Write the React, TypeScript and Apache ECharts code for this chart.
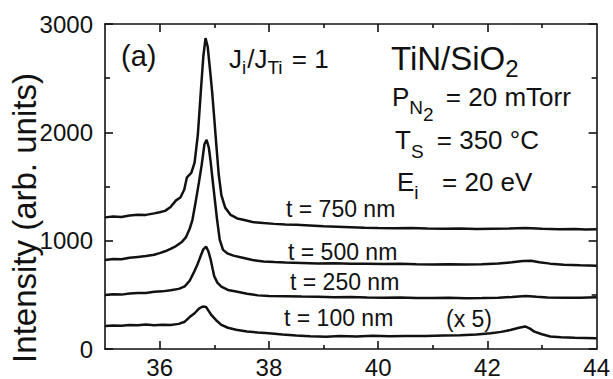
import React, { useEffect, useRef } from "react";
import * as echarts from "echarts";

const FONT = '"Liberation Sans", Arial, Helvetica, sans-serif';

// XRD scans: [2theta (deg), intensity (arb. units)], offset vertically as in the figure
const s750: number[][] = [
  [35.0,1215],[35.15,1222],[35.3,1218],[35.45,1232],[35.6,1240],[35.75,1238],[35.9,1252],[36.0,1262],[36.1,1275],[36.2,1310],
  [36.3,1372],[36.38,1398],[36.45,1470],[36.5,1585],[36.58,1625],[36.64,1720],[36.7,1980],[36.76,2420],[36.8,2700],[36.84,2870],
  [36.88,2790],[36.92,2590],[36.96,2380],[37.0,2130],[37.04,1870],[37.08,1620],[37.13,1420],[37.2,1305],[37.3,1238],[37.42,1205],
  [37.55,1190],[37.7,1172],[37.9,1162],[38.1,1155],[38.3,1150],[38.5,1146],[38.75,1140],[39.0,1132],[39.25,1128],[39.5,1124],
  [39.75,1120],[40.0,1117],[40.3,1114],[40.6,1116],[40.9,1112],[41.2,1110],[41.5,1112],[41.8,1108],[42.1,1110],[42.4,1112],
  [42.7,1118],[43.0,1110],[43.3,1106],[43.6,1108],[43.8,1104],[44.0,1106]
];
const s500: number[][] = [
  [35.0,822],[35.15,830],[35.3,828],[35.45,842],[35.6,850],[35.75,858],[35.9,870],[36.0,885],[36.1,902],[36.2,925],
  [36.3,950],[36.4,985],[36.48,1030],[36.55,1110],[36.6,1190],[36.66,1360],[36.72,1540],[36.77,1700],[36.82,1890],[36.86,1930],
  [36.9,1860],[36.93,1745],[36.97,1560],[37.01,1380],[37.05,1200],[37.1,1010],[37.16,915],[37.25,880],[37.35,862],[37.5,845],
  [37.7,822],[37.9,808],[38.1,802],[38.3,798],[38.6,794],[38.9,790],[39.2,792],[39.5,787],[39.8,786],[40.1,784],
  [40.4,786],[40.7,782],[41.0,780],[41.3,782],[41.6,779],[41.9,782],[42.2,790],[42.45,800],[42.65,812],[42.8,815],
  [42.95,800],[43.15,788],[43.4,778],[43.7,772],[44.0,768]
];
const s250: number[][] = [
  [35.0,498],[35.15,505],[35.3,502],[35.45,512],[35.6,518],[35.75,516],[35.9,528],[36.05,532],[36.2,542],[36.35,555],
  [36.46,578],[36.55,630],[36.62,700],[36.7,790],[36.76,870],[36.8,920],[36.85,945],[36.89,905],[36.93,835],[36.97,740],
  [37.0,670],[37.06,610],[37.13,575],[37.25,545],[37.4,530],[37.6,510],[37.8,495],[38.0,490],[38.3,487],[38.6,484],
  [38.9,482],[39.2,478],[39.5,480],[39.8,476],[40.1,474],[40.4,475],[40.7,471],[41.0,470],[41.3,472],[41.6,469],
  [41.9,470],[42.2,474],[42.45,480],[42.7,490],[42.9,482],[43.1,476],[43.4,472],[43.7,474],[44.0,477]
];
const s100: number[][] = [
  [35.0,212],[35.15,218],[35.3,214],[35.45,222],[35.6,220],[35.75,226],[35.9,219],[36.05,224],[36.2,222],[36.35,232],
  [36.46,252],[36.55,295],[36.64,330],[36.72,372],[36.79,392],[36.85,388],[36.9,350],[36.95,312],[37.03,268],[37.13,222],
  [37.25,196],[37.4,178],[37.6,162],[37.8,152],[38.0,146],[38.25,134],[38.5,124],[38.75,118],[39.05,114],[39.3,120],
  [39.6,116],[39.9,122],[40.2,118],[40.5,121],[40.87,119],[41.2,125],[41.5,128],[41.8,134],[42.06,145],[42.25,158],
  [42.42,175],[42.58,196],[42.69,208],[42.78,188],[42.86,160],[43.0,136],[43.15,116],[43.35,108],[43.6,104],[43.8,102],
  [44.0,99]
];

const xMajorTicks = [36, 38, 40, 42];
const xMinorTicks = [37, 39, 41, 43];
const xTickLabels = [36, 38, 40, 42, 44];

type Part = { t: string; f: number; dy?: number; gap?: number };

let ctx: CanvasRenderingContext2D | null = null;
function measure(t: string, f: number): number {
  if (!ctx) ctx = document.createElement("canvas").getContext("2d");
  if (!ctx) return t.length * f * 0.55;
  ctx.font = `${f}px ${FONT}`;
  return ctx.measureText(t).width;
}

function runText(x0: number, base: number, parts: Part[]): any[] {
  let x = x0;
  return parts.map((p) => {
    const el = {
      type: "text",
      x,
      y: base + (p.dy || 0) - 0.3465 * p.f,
      silent: true,
      style: {
        text: p.t,
        font: `${p.f}px ${FONT}`,
        fill: "#111",
        align: "left",
        textAlign: "left",
        textVerticalAlign: "middle",
        verticalAlign: "middle",
      },
    };
    x += measure(p.t, p.f) + (p.gap || 0);
    return el;
  });
}

export default function App() {
  const ref = useRef<HTMLDivElement>(null);
  useEffect(() => {
    if (!ref.current) return;
    const chart = echarts.init(ref.current, null, { renderer: "svg" });
    const axisLine = { show: true, lineStyle: { color: "#111", width: 1.6 } };
    const tickStyle = { color: "#111", width: 1.6 };
    const xCommon = { type: "value", min: 35, max: 44, interval: 1, splitLine: { show: false } };
    const lineSeries = (name: string, data: number[][]) => ({
      name,
      type: "line",
      data,
      xAxisIndex: 0,
      yAxisIndex: 0,
      showSymbol: false,
      symbol: "none",
      lineStyle: { color: "#111", width: 2.5 },
      z: 3,
    });

    const graphics: any[] = [
      {
        type: "text",
        x: 24,
        y: 218,
        rotation: Math.PI / 2,
        silent: true,
        style: {
          text: "Intensity (arb. units)",
          font: `33px ${FONT}`,
          fill: "#111",
          align: "center",
          textAlign: "center",
          textVerticalAlign: "middle",
          verticalAlign: "middle",
        },
      },
      ...runText(121, 66, [{ t: "(a)", f: 29 }]),
      ...runText(229, 68, [
        { t: "J", f: 26 },
        { t: "i", f: 19, dy: 6, gap: 1 },
        { t: "/J", f: 26 },
        { t: "Ti", f: 19, dy: 6, gap: 2 },
        { t: " = 1", f: 26 },
      ]),
      ...runText(391, 70, [
        { t: "TiN/SiO", f: 33 },
        { t: "2", f: 24, dy: 7 },
      ]),
      ...runText(392, 106, [
        { t: "P", f: 26 },
        { t: "N", f: 19, dy: 8 },
        { t: "2", f: 19, dy: 15, gap: 5 },
        { t: " = 20 mTorr", f: 26 },
      ]),
      ...runText(395, 149, [
        { t: "T", f: 26 },
        { t: "S", f: 19, dy: 9, gap: 6 },
        { t: " = 350 °C", f: 26 },
      ]),
      ...runText(397, 191, [
        { t: "E", f: 26 },
        { t: "i", f: 19, dy: 8, gap: 9 },
        { t: "  = 20 eV", f: 26 },
      ]),
      ...runText(286, 217, [{ t: "t = 750 nm", f: 23 }]),
      ...runText(288, 260, [{ t: "t = 500 nm", f: 23 }]),
      ...runText(290, 290, [{ t: "t = 250 nm", f: 23 }]),
      ...runText(284, 326, [{ t: "t = 100 nm", f: 23 }]),
      ...runText(446, 327, [{ t: "(x 5)", f: 23 }]),
    ];

    chart.setOption({
      animation: false,
      backgroundColor: "#fff",
      grid: { left: 105, right: 15, top: 24, bottom: 30, containLabel: false },
      xAxis: [
        {
          ...xCommon,
          position: "bottom",
          axisLine,
          axisTick: { show: true, inside: true, length: 8, lineStyle: tickStyle, customValues: xMajorTicks },
          axisLabel: {
            show: true,
            customValues: xTickLabels,
            showMaxLabel: true,
            showMinLabel: true,
            fontSize: 24,
            fontFamily: FONT,
            color: "#111",
            margin: 6,
            formatter: (v: number) => String(v),
          },
        },
        {
          ...xCommon,
          position: "bottom",
          axisLine: { show: false },
          axisTick: { show: true, inside: true, length: 4, lineStyle: tickStyle, customValues: xMinorTicks },
          axisLabel: { show: false },
        },
        {
          ...xCommon,
          position: "top",
          axisLine,
          axisTick: { show: true, inside: true, length: 8, lineStyle: tickStyle, customValues: xMajorTicks },
          axisLabel: { show: false },
        },
        {
          ...xCommon,
          position: "top",
          axisLine: { show: false },
          axisTick: { show: true, inside: true, length: 4, lineStyle: tickStyle, customValues: xMinorTicks },
          axisLabel: { show: false },
        },
      ],
      yAxis: [
        {
          type: "value",
          min: 0,
          max: 3000,
          interval: 1000,
          position: "left",
          axisLine,
          axisTick: { show: true, inside: true, length: 8, lineStyle: tickStyle },
          minorTick: { show: true, splitNumber: 2, length: 5, lineStyle: tickStyle },
          axisLabel: {
            fontSize: 24,
            fontFamily: FONT,
            color: "#111",
            margin: 12,
            formatter: (v: number) => String(v),
          },
          splitLine: { show: false },
        },
        {
          type: "value",
          min: 0,
          max: 3000,
          interval: 1000,
          position: "right",
          axisLine,
          axisTick: { show: true, inside: true, length: 8, lineStyle: tickStyle },
          minorTick: { show: true, splitNumber: 2, length: 5, lineStyle: tickStyle },
          axisLabel: { show: false },
          splitLine: { show: false },
        },
      ],
      series: [
        lineSeries("t = 750 nm", s750),
        lineSeries("t = 500 nm", s500),
        lineSeries("t = 250 nm", s250),
        lineSeries("t = 100 nm (x 5)", s100),
      ],
      graphic: graphics,
    });
    return () => chart.dispose();
  }, []);
  return (
    <div
      ref={ref}
      style={{ position: "absolute", left: 0, top: 0, width: 613, height: 379, background: "#fff" }}
    />
  );
}
